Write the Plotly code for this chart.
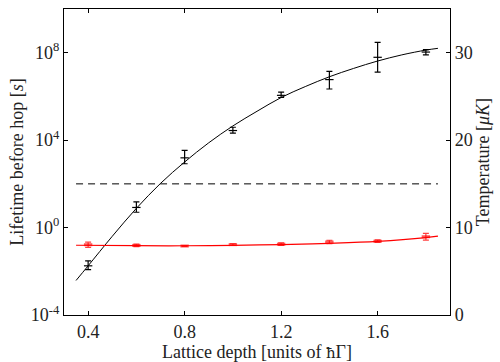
import plotly.graph_objects as go

# ---- data ----
depth = [0.4, 0.6, 0.8, 1.0, 1.2, 1.4, 1.6, 1.8]
# lifetime (log10 of seconds): centre, upper end, lower end of error bar
life_log = [-1.75, 0.92, 3.19, 4.44, 6.05, 6.77, 7.79, 8.03]
life_log_hi = [-1.52, 1.18, 3.53, 4.59, 6.20, 7.15, 8.47, 8.14]
life_log_lo = [-1.92, 0.70, 2.92, 4.32, 5.95, 6.34, 7.11, 7.90]

# temperature (µK)
temp = [8.04, 7.96, 7.89, 8.05, 8.10, 8.35, 8.44, 8.95]
temp_err = [0.30, 0.15, 0.05, 0.10, 0.15, 0.20, 0.15, 0.38]

# fitted curves
fit_x = [0.35, 0.4, 0.5, 0.6, 0.7, 0.8, 0.9, 1.0, 1.1, 1.2, 1.3, 1.4, 1.5, 1.6, 1.7, 1.8, 1.85]
fit_life_log = [-2.42, -1.75, -0.40, 0.88, 2.02, 3.0, 3.88, 4.65, 5.32, 5.95, 6.45, 6.9, 7.28, 7.62, 7.9, 8.12, 8.2]

tfit_x = [0.35, 0.6, 0.8, 1.0, 1.2, 1.4, 1.6, 1.8, 1.85]
tfit_T = [7.98, 7.93, 7.92, 7.97, 8.06, 8.2, 8.42, 8.85, 9.02]

thresh_x = [0.35, 1.85]
thresh_life = [1e2, 1e2]

ytick_vals = [1e-4, 1e0, 1e4, 1e8]
ytick_text = ["10<sup>-4</sup>", "10<sup>0</sup>", "10<sup>4</sup>", "10<sup>8</sup>"]
xtick_vals = [0.4, 0.8, 1.2, 1.6]
xtick_text = ["0.4", "0.8", "1.2", "1.6"]
y2tick_vals = [0, 10, 20, 30]

life = [10 ** v for v in life_log]
life_plus = [10 ** h - 10 ** c for h, c in zip(life_log_hi, life_log)]
life_minus = [10 ** c - 10 ** l for l, c in zip(life_log_lo, life_log)]
fit_life = [10 ** v for v in fit_life_log]

FONT = "Liberation Serif"
FS = 18

fig = go.Figure()

fig.add_trace(go.Scatter(
    x=thresh_x, y=thresh_life, mode="lines",
    line=dict(color="black", width=1, dash="7px,5px"),
    showlegend=False, yaxis="y"))

fig.add_trace(go.Scatter(
    x=tfit_x, y=tfit_T, mode="lines", line_shape="spline",
    line=dict(color="#ff0000", width=1.2), showlegend=False, yaxis="y2"))

fig.add_trace(go.Scatter(
    x=depth, y=temp, mode="markers",
    marker=dict(symbol="line-ew", size=6, line=dict(color="rgba(255,0,0,0.65)", width=3)),
    error_y=dict(type="data", array=temp_err, color="rgba(255,0,0,0.75)", thickness=1.2, width=3),
    showlegend=False, yaxis="y2"))

fig.add_trace(go.Scatter(
    x=fit_x, y=fit_life, mode="lines", line_shape="spline",
    line=dict(color="black", width=1), showlegend=False, yaxis="y"))

fig.add_trace(go.Scatter(
    x=depth, y=life, mode="markers",
    marker=dict(symbol="line-ew", size=6, line=dict(color="black", width=1.2)),
    error_y=dict(type="data", symmetric=False, array=life_plus, arrayminus=life_minus,
                 color="black", thickness=1.2, width=3),
    showlegend=False, yaxis="y"))

axis_common = dict(showline=True, linecolor="black", linewidth=1.2, ticks="inside",
                   ticklen=4, tickcolor="black", showgrid=False, zeroline=False,
                   tickfont=dict(family=FONT, size=FS, color="#222"))

fig.update_layout(
    width=500, height=362,
    margin=dict(l=64, r=50, t=8, b=45),
    paper_bgcolor="white", plot_bgcolor="white",
    font=dict(family=FONT, size=FS, color="#222"),
    xaxis=dict(range=[0.3, 1.9], tickvals=xtick_vals, ticktext=xtick_text, mirror="ticks",
               title=dict(text="Lattice depth [units of <span style='font-family:DejaVu Serif;font-size:15px'>ħ</span>Γ]",
                          standoff=0, font=dict(family=FONT, size=FS)),
               **axis_common),
    yaxis=dict(type="log", range=[-4, 10], tickvals=ytick_vals, ticktext=ytick_text,
               title=dict(text="Lifetime before hop [<i>s</i>]", standoff=2,
                          font=dict(family=FONT, size=FS)),
               **axis_common),
    yaxis2=dict(overlaying="y", side="right", range=[0, 35], tickvals=y2tick_vals,
                title=dict(text="Temperature [<i>μK</i>]", standoff=4,
                           font=dict(family=FONT, size=FS)),
                **axis_common),
)

fig.write_html("out.html")
